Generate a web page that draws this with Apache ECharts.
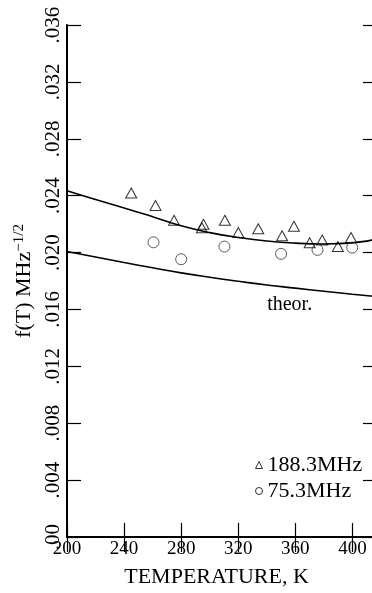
<!DOCTYPE html>
<html>
<head>
<meta charset="utf-8">
<script src="https://cdn.jsdelivr.net/npm/echarts@6/dist/echarts.min.js"></script>
<style>
  html, body { margin: 0; padding: 0; background: #fff; overflow: hidden; }
  /* the right frame of the original figure lies just past the cropped edge */
  #chart { width: 381px; height: 593px; }
</style>
</head>
<body>
<div id="chart"></div>
<script>
// data
const yTicks = [0, 0.004, 0.008, 0.012, 0.016, 0.020, 0.024, 0.028, 0.032, 0.036];
const yTickLabels = [".00", ".004", ".008", ".012", ".016", ".020", ".024", ".028", ".032", ".036"];

const t188 = [245, 262, 275, 294.5, 295.6, 310.6, 320, 334, 350.7, 359, 370, 378.8, 389.8, 399];
const f188 = [0.02419, 0.02331, 0.02227, 0.02174, 0.02199, 0.02227, 0.02141, 0.02167, 0.02118, 0.02185, 0.02069, 0.02088, 0.02042, 0.02106];

const t75 = [260.6, 280, 310.3, 350, 375.5, 399.8];
const f75 = [0.02072, 0.01953, 0.02042, 0.01991, 0.02019, 0.02035];

const fitT = [200, 220, 240, 260, 280, 300, 320, 340, 360, 380, 400, 420];
const fitF = [0.02435, 0.02373, 0.02314, 0.02252, 0.02188, 0.02140, 0.02106, 0.02081, 0.02066, 0.02060, 0.02068, 0.02102];

const theorT = [200, 220, 240, 260, 280, 300, 320, 340, 360, 380, 400, 420];
const theorF = [0.02007, 0.01969, 0.01930, 0.01893, 0.01857, 0.01826, 0.01798, 0.01772, 0.01750, 0.01728, 0.01707, 0.01688];

const theorLabelAt = [356, 0.0163];

const font = "Liberation Serif";
const zip = (a, b) => a.map((v, i) => [v, b[i]]);

const chart = echarts.init(document.getElementById("chart"));

const tickStyle = { color: "#000", width: 1.2 };

chart.setOption({
  backgroundColor: "#fff",
  animation: false,
  grid: { left: 67, right: 0, top: 25, bottom: 49, containLabel: false },
  legend: {
    orient: "vertical",
    left: 255,
    top: 454,
    padding: 0,
    itemWidth: 7,
    itemHeight: 7,
    itemGap: 4,
    data: [
      { name: "188.3MHz", icon: "triangle" },
      { name: "75.3MHz", icon: "circle" },
    ],
    itemStyle: { color: "rgba(0,0,0,0)", borderColor: "#000", borderWidth: 1 },
    textStyle: { fontFamily: font, fontSize: 22, color: "#000" },
  },
  xAxis: [
    {
      type: "value",
      position: "bottom",
      min: 200,
      max: 420,
      interval: 40,
      splitLine: { show: false },
      axisLine: { lineStyle: { color: "#000", width: 2 } },
      axisTick: { inside: true, length: 14, lineStyle: tickStyle },
      axisLabel: {
        margin: 3,
        color: "#000",
        fontFamily: font,
        fontSize: 19,
        showMaxLabel: false,
      },
      name: "TEMPERATURE, K",
      nameLocation: "middle",
      nameGap: 29,
      nameTextStyle: { fontFamily: font, fontSize: 22, color: "#000", padding: [0, 15, 0, 0] },
    },
    {
      type: "value",
      position: "top",
      min: 200,
      max: 420,
      interval: 40,
      splitLine: { show: false },
      axisLine: { lineStyle: { color: "#000", width: 1.5 } },
      axisTick: { inside: true, length: 15, lineStyle: tickStyle },
      axisLabel: { show: false },
    },
  ],
  yAxis: [
    {
      type: "value",
      position: "left",
      min: 0,
      max: 0.036,
      interval: 0.004,
      splitLine: { show: false },
      axisLine: { lineStyle: { color: "#000", width: 2 } },
      axisTick: { inside: true, length: 14, lineStyle: tickStyle },
      axisLabel: {
        rotate: 90,
        margin: 3,
        color: "#000",
        fontFamily: font,
        fontSize: 21,
        formatter: (v) => yTickLabels[yTicks.findIndex((t) => Math.abs(t - v) < 1e-6)],
      },
      name: "{a|f(T) MHz}{b|−1/2}",
      nameLocation: "middle",
      nameGap: 28,
      nameTextStyle: {
        color: "#000",
        rich: {
          a: { fontFamily: font, fontSize: 22, color: "#000", lineHeight: 26 },
          b: { fontFamily: font, fontSize: 15, color: "#000", verticalAlign: "top" },
        },
      },
    },
    {
      type: "value",
      position: "right",
      min: 0,
      max: 0.036,
      interval: 0.004,
      splitLine: { show: false },
      axisLine: { lineStyle: { color: "#000", width: 1.5 } },
      axisTick: { inside: true, length: 18, lineStyle: tickStyle },
      axisLabel: { show: false },
    },
  ],
  series: [
    {
      name: "fit",
      type: "line",
      smooth: true,
      symbol: "none",
      data: zip(fitT, fitF),
      lineStyle: { color: "#000", width: 1.6 },
      z: 2,
    },
    {
      name: "theor",
      type: "line",
      smooth: true,
      symbol: "none",
      data: zip(theorT, theorF),
      lineStyle: { color: "#000", width: 1.6 },
      z: 2,
    },
    {
      name: "188.3MHz",
      type: "scatter",
      symbol: "triangle",
      symbolSize: [11, 10],
      data: zip(t188, f188),
      itemStyle: { color: "rgba(0,0,0,0)", borderColor: "#000", borderWidth: 1 },
      z: 3,
    },
    {
      name: "75.3MHz",
      type: "scatter",
      symbol: "circle",
      symbolSize: 11,
      data: zip(t75, f75),
      itemStyle: { color: "rgba(0,0,0,0)", borderColor: "#333", borderWidth: 1 },
      z: 3,
    },
  ],
});

// "theor." annotation placed from data coordinates
const p = chart.convertToPixel({ gridIndex: 0 }, theorLabelAt);
chart.setOption({
  graphic: [
    {
      type: "text",
      x: p[0],
      y: p[1],
      style: {
        text: "theor.",
        fontFamily: font,
        fontSize: 20,
        fill: "#000",
        align: "center",
        verticalAlign: "middle",
      },
    },
  ],
});
</script>
</body>
</html>
